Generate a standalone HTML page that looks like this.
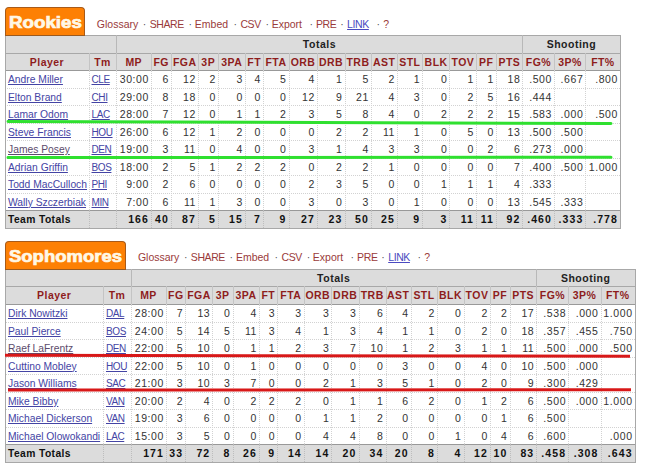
<!DOCTYPE html><html><head><meta charset="utf-8"><title>Rookies vs Sophomores</title>
<style>
*{margin:0;padding:0;box-sizing:border-box}
html,body{width:650px;height:472px;background:#fff;overflow:hidden;position:relative;font-family:"Liberation Sans", sans-serif}
div{position:absolute}
.tab{z-index:2;background:#fd8004;border:1px solid #a85a18;border-bottom-color:#9a5a20;border-radius:4px 4px 0 0;color:#fff8e6;font-weight:bold;font-size:16px;line-height:16px;padding-left:2.5px;padding-top:6.5px}
.tab span{display:inline-block;transform:scaleX(1.17);transform-origin:0 0;-webkit-text-stroke:0.7px #fff8e6}
.bg{background:#dcdcdc}
.ov{font-weight:bold;font-size:10.5px;color:#222;text-align:center;line-height:19px;letter-spacing:0.5px;text-indent:0.5px}
.hd{font-weight:bold;font-size:10.5px;color:#8e1c1c;text-align:center;line-height:18px;letter-spacing:0.45px;text-indent:0.45px}
.c{font-size:10.3px;color:#333;line-height:18.3px;padding-left:3px;padding-top:1px;white-space:nowrap;overflow:visible}
.c.r{font-size:10.5px;text-align:right;padding-right:2px;padding-left:0;padding-top:0;letter-spacing:0.6px}
.c.b{font-weight:bold;color:#111;letter-spacing:0.4px}
.c.r.b{letter-spacing:1.1px}
.nm{color:#4444a4;text-decoration:underline;text-underline-offset:1px}
.tm{font-size:10px;letter-spacing:-0.4px}
.nm.v{color:#5c4c6c}
.hs{height:1px;background:#a8a8a8}
.hs2{height:1px;background:#999}
.hd2{height:0;border-top:1px dotted #d2d2d2}
.vs{width:1px;background:#a8a8a8}
.vs2{width:1px;background:#c4c4c4}
.vs3{width:1px;background:#b8b8b8}
.vd2{width:0;border-left:1px dotted #bdbdbd}
.vd{width:0;border-left:1px dotted #d2d2d2}
.lk{font-size:10.5px;line-height:12px;white-space:nowrap}
.lk.a{color:#9a3a3a}
.lk.u{color:#4a4ac0;text-decoration:underline}
.lk.d{color:#555}
.mk{border-radius:2px}
</style></head><body>
<div class="tab" style="left:5.00px;top:7.00px;width:80.00px;height:29.00px;"><span>Rookies</span></div>
<div class="lk a" style="left:96.80px;top:18px;">Glossary</div>
<div class="lk d" style="left:142.80px;top:18px;">·</div>
<div class="lk a" style="left:149.70px;top:18px;letter-spacing:-0.4px;">SHARE</div>
<div class="lk d" style="left:188.40px;top:18px;">·</div>
<div class="lk a" style="left:194.80px;top:18px;">Embed</div>
<div class="lk d" style="left:233.50px;top:18px;">·</div>
<div class="lk a" style="left:240.40px;top:18px;letter-spacing:-0.4px;">CSV</div>
<div class="lk d" style="left:265.60px;top:18px;">·</div>
<div class="lk a" style="left:271.70px;top:18px;">Export</div>
<div class="lk d" style="left:309.40px;top:18px;">·</div>
<div class="lk a" style="left:316.00px;top:18px;letter-spacing:-0.4px;">PRE</div>
<div class="lk d" style="left:340.20px;top:18px;">·</div>
<div class="lk u" style="left:347.10px;top:18px;letter-spacing:-0.4px;">LINK</div>
<div class="lk d" style="left:376.40px;top:18px;">·</div>
<div class="lk a" style="left:383.20px;top:18px;">?</div>
<div class="bg" style="left:5.00px;top:35.00px;width:615.00px;height:35.40px;"></div>
<div class="bg" style="left:5.00px;top:210.16px;width:615.00px;height:17.90px;"></div>
<div class="ov" style="left:116.00px;top:35.00px;width:406.40px;height:18.00px;">Totals</div>
<div class="ov" style="left:522.40px;top:35.00px;width:97.60px;height:18.00px;">Shooting</div>
<div class="hd" style="left:5.00px;top:53.00px;width:83.50px;height:17.40px;">Player</div>
<div class="hd" style="left:88.50px;top:53.00px;width:27.50px;height:17.40px;">Tm</div>
<div class="hd" style="left:116.00px;top:53.00px;width:35.00px;height:17.40px;">MP</div>
<div class="hd" style="left:151.00px;top:53.00px;width:20.00px;height:17.40px;">FG</div>
<div class="hd" style="left:171.00px;top:53.00px;width:27.00px;height:17.40px;">FGA</div>
<div class="hd" style="left:198.00px;top:53.00px;width:20.00px;height:17.40px;">3P</div>
<div class="hd" style="left:218.00px;top:53.00px;width:27.00px;height:17.40px;">3PA</div>
<div class="hd" style="left:245.00px;top:53.00px;width:18.00px;height:17.40px;">FT</div>
<div class="hd" style="left:263.00px;top:53.00px;width:25.50px;height:17.40px;">FTA</div>
<div class="hd" style="left:288.50px;top:53.00px;width:28.50px;height:17.40px;">ORB</div>
<div class="hd" style="left:317.00px;top:53.00px;width:27.50px;height:17.40px;">DRB</div>
<div class="hd" style="left:344.50px;top:53.00px;width:26.50px;height:17.40px;">TRB</div>
<div class="hd" style="left:371.00px;top:53.00px;width:26.00px;height:17.40px;">AST</div>
<div class="hd" style="left:397.00px;top:53.00px;width:25.30px;height:17.40px;">STL</div>
<div class="hd" style="left:422.30px;top:53.00px;width:27.10px;height:17.40px;">BLK</div>
<div class="hd" style="left:449.40px;top:53.00px;width:26.60px;height:17.40px;">TOV</div>
<div class="hd" style="left:476.00px;top:53.00px;width:20.00px;height:17.40px;">PF</div>
<div class="hd" style="left:496.00px;top:53.00px;width:26.40px;height:17.40px;">PTS</div>
<div class="hd" style="left:522.40px;top:53.00px;width:31.60px;height:17.40px;">FG%</div>
<div class="hd" style="left:554.00px;top:53.00px;width:31.40px;height:17.40px;">3P%</div>
<div class="hd" style="left:585.40px;top:53.00px;width:34.60px;height:17.40px;">FT%</div>
<div class="c" style="left:5.00px;top:70.40px;width:83.50px;height:17.47px;"><span class="nm">Andre Miller</span></div>
<div class="c" style="left:88.50px;top:70.40px;width:27.50px;height:17.47px;"><span class="nm tm">CLE</span></div>
<div class="c r" style="left:116.00px;top:70.40px;width:35.00px;height:17.47px;">30:00</div>
<div class="c r" style="left:151.00px;top:70.40px;width:20.00px;height:17.47px;">6</div>
<div class="c r" style="left:171.00px;top:70.40px;width:27.00px;height:17.47px;">12</div>
<div class="c r" style="left:198.00px;top:70.40px;width:20.00px;height:17.47px;">2</div>
<div class="c r" style="left:218.00px;top:70.40px;width:27.00px;height:17.47px;">3</div>
<div class="c r" style="left:245.00px;top:70.40px;width:18.00px;height:17.47px;">4</div>
<div class="c r" style="left:263.00px;top:70.40px;width:25.50px;height:17.47px;">5</div>
<div class="c r" style="left:288.50px;top:70.40px;width:28.50px;height:17.47px;">4</div>
<div class="c r" style="left:317.00px;top:70.40px;width:27.50px;height:17.47px;">1</div>
<div class="c r" style="left:344.50px;top:70.40px;width:26.50px;height:17.47px;">5</div>
<div class="c r" style="left:371.00px;top:70.40px;width:26.00px;height:17.47px;">2</div>
<div class="c r" style="left:397.00px;top:70.40px;width:25.30px;height:17.47px;">1</div>
<div class="c r" style="left:422.30px;top:70.40px;width:27.10px;height:17.47px;">0</div>
<div class="c r" style="left:449.40px;top:70.40px;width:26.60px;height:17.47px;">1</div>
<div class="c r" style="left:476.00px;top:70.40px;width:20.00px;height:17.47px;">1</div>
<div class="c r" style="left:496.00px;top:70.40px;width:26.40px;height:17.47px;">18</div>
<div class="c r" style="left:522.40px;top:70.40px;width:31.60px;height:17.47px;">.500</div>
<div class="c r" style="left:554.00px;top:70.40px;width:31.40px;height:17.47px;">.667</div>
<div class="c r" style="left:585.40px;top:70.40px;width:34.60px;height:17.47px;">.800</div>
<div class="c" style="left:5.00px;top:87.87px;width:83.50px;height:17.47px;"><span class="nm">Elton Brand</span></div>
<div class="c" style="left:88.50px;top:87.87px;width:27.50px;height:17.47px;"><span class="nm tm">CHI</span></div>
<div class="c r" style="left:116.00px;top:87.87px;width:35.00px;height:17.47px;">29:00</div>
<div class="c r" style="left:151.00px;top:87.87px;width:20.00px;height:17.47px;">8</div>
<div class="c r" style="left:171.00px;top:87.87px;width:27.00px;height:17.47px;">18</div>
<div class="c r" style="left:198.00px;top:87.87px;width:20.00px;height:17.47px;">0</div>
<div class="c r" style="left:218.00px;top:87.87px;width:27.00px;height:17.47px;">0</div>
<div class="c r" style="left:245.00px;top:87.87px;width:18.00px;height:17.47px;">0</div>
<div class="c r" style="left:263.00px;top:87.87px;width:25.50px;height:17.47px;">0</div>
<div class="c r" style="left:288.50px;top:87.87px;width:28.50px;height:17.47px;">12</div>
<div class="c r" style="left:317.00px;top:87.87px;width:27.50px;height:17.47px;">9</div>
<div class="c r" style="left:344.50px;top:87.87px;width:26.50px;height:17.47px;">21</div>
<div class="c r" style="left:371.00px;top:87.87px;width:26.00px;height:17.47px;">4</div>
<div class="c r" style="left:397.00px;top:87.87px;width:25.30px;height:17.47px;">3</div>
<div class="c r" style="left:422.30px;top:87.87px;width:27.10px;height:17.47px;">0</div>
<div class="c r" style="left:449.40px;top:87.87px;width:26.60px;height:17.47px;">2</div>
<div class="c r" style="left:476.00px;top:87.87px;width:20.00px;height:17.47px;">5</div>
<div class="c r" style="left:496.00px;top:87.87px;width:26.40px;height:17.47px;">16</div>
<div class="c r" style="left:522.40px;top:87.87px;width:31.60px;height:17.47px;">.444</div>
<div class="c r" style="left:554.00px;top:87.87px;width:31.40px;height:17.47px;"></div>
<div class="c r" style="left:585.40px;top:87.87px;width:34.60px;height:17.47px;"></div>
<div class="c" style="left:5.00px;top:105.34px;width:83.50px;height:17.47px;"><span class="nm">Lamar Odom</span></div>
<div class="c" style="left:88.50px;top:105.34px;width:27.50px;height:17.47px;"><span class="nm tm">LAC</span></div>
<div class="c r" style="left:116.00px;top:105.34px;width:35.00px;height:17.47px;">28:00</div>
<div class="c r" style="left:151.00px;top:105.34px;width:20.00px;height:17.47px;">7</div>
<div class="c r" style="left:171.00px;top:105.34px;width:27.00px;height:17.47px;">12</div>
<div class="c r" style="left:198.00px;top:105.34px;width:20.00px;height:17.47px;">0</div>
<div class="c r" style="left:218.00px;top:105.34px;width:27.00px;height:17.47px;">1</div>
<div class="c r" style="left:245.00px;top:105.34px;width:18.00px;height:17.47px;">1</div>
<div class="c r" style="left:263.00px;top:105.34px;width:25.50px;height:17.47px;">2</div>
<div class="c r" style="left:288.50px;top:105.34px;width:28.50px;height:17.47px;">3</div>
<div class="c r" style="left:317.00px;top:105.34px;width:27.50px;height:17.47px;">5</div>
<div class="c r" style="left:344.50px;top:105.34px;width:26.50px;height:17.47px;">8</div>
<div class="c r" style="left:371.00px;top:105.34px;width:26.00px;height:17.47px;">4</div>
<div class="c r" style="left:397.00px;top:105.34px;width:25.30px;height:17.47px;">0</div>
<div class="c r" style="left:422.30px;top:105.34px;width:27.10px;height:17.47px;">2</div>
<div class="c r" style="left:449.40px;top:105.34px;width:26.60px;height:17.47px;">2</div>
<div class="c r" style="left:476.00px;top:105.34px;width:20.00px;height:17.47px;">2</div>
<div class="c r" style="left:496.00px;top:105.34px;width:26.40px;height:17.47px;">15</div>
<div class="c r" style="left:522.40px;top:105.34px;width:31.60px;height:17.47px;">.583</div>
<div class="c r" style="left:554.00px;top:105.34px;width:31.40px;height:17.47px;">.000</div>
<div class="c r" style="left:585.40px;top:105.34px;width:34.60px;height:17.47px;">.500</div>
<div class="c" style="left:5.00px;top:122.81px;width:83.50px;height:17.47px;"><span class="nm">Steve Francis</span></div>
<div class="c" style="left:88.50px;top:122.81px;width:27.50px;height:17.47px;"><span class="nm tm">HOU</span></div>
<div class="c r" style="left:116.00px;top:122.81px;width:35.00px;height:17.47px;">26:00</div>
<div class="c r" style="left:151.00px;top:122.81px;width:20.00px;height:17.47px;">6</div>
<div class="c r" style="left:171.00px;top:122.81px;width:27.00px;height:17.47px;">12</div>
<div class="c r" style="left:198.00px;top:122.81px;width:20.00px;height:17.47px;">1</div>
<div class="c r" style="left:218.00px;top:122.81px;width:27.00px;height:17.47px;">2</div>
<div class="c r" style="left:245.00px;top:122.81px;width:18.00px;height:17.47px;">0</div>
<div class="c r" style="left:263.00px;top:122.81px;width:25.50px;height:17.47px;">0</div>
<div class="c r" style="left:288.50px;top:122.81px;width:28.50px;height:17.47px;">0</div>
<div class="c r" style="left:317.00px;top:122.81px;width:27.50px;height:17.47px;">2</div>
<div class="c r" style="left:344.50px;top:122.81px;width:26.50px;height:17.47px;">2</div>
<div class="c r" style="left:371.00px;top:122.81px;width:26.00px;height:17.47px;">11</div>
<div class="c r" style="left:397.00px;top:122.81px;width:25.30px;height:17.47px;">1</div>
<div class="c r" style="left:422.30px;top:122.81px;width:27.10px;height:17.47px;">0</div>
<div class="c r" style="left:449.40px;top:122.81px;width:26.60px;height:17.47px;">5</div>
<div class="c r" style="left:476.00px;top:122.81px;width:20.00px;height:17.47px;">0</div>
<div class="c r" style="left:496.00px;top:122.81px;width:26.40px;height:17.47px;">13</div>
<div class="c r" style="left:522.40px;top:122.81px;width:31.60px;height:17.47px;">.500</div>
<div class="c r" style="left:554.00px;top:122.81px;width:31.40px;height:17.47px;">.500</div>
<div class="c r" style="left:585.40px;top:122.81px;width:34.60px;height:17.47px;"></div>
<div class="c" style="left:5.00px;top:140.28px;width:83.50px;height:17.47px;"><span class="nm v">James Posey</span></div>
<div class="c" style="left:88.50px;top:140.28px;width:27.50px;height:17.47px;"><span class="nm tm">DEN</span></div>
<div class="c r" style="left:116.00px;top:140.28px;width:35.00px;height:17.47px;">19:00</div>
<div class="c r" style="left:151.00px;top:140.28px;width:20.00px;height:17.47px;">3</div>
<div class="c r" style="left:171.00px;top:140.28px;width:27.00px;height:17.47px;">11</div>
<div class="c r" style="left:198.00px;top:140.28px;width:20.00px;height:17.47px;">0</div>
<div class="c r" style="left:218.00px;top:140.28px;width:27.00px;height:17.47px;">4</div>
<div class="c r" style="left:245.00px;top:140.28px;width:18.00px;height:17.47px;">0</div>
<div class="c r" style="left:263.00px;top:140.28px;width:25.50px;height:17.47px;">0</div>
<div class="c r" style="left:288.50px;top:140.28px;width:28.50px;height:17.47px;">3</div>
<div class="c r" style="left:317.00px;top:140.28px;width:27.50px;height:17.47px;">1</div>
<div class="c r" style="left:344.50px;top:140.28px;width:26.50px;height:17.47px;">4</div>
<div class="c r" style="left:371.00px;top:140.28px;width:26.00px;height:17.47px;">3</div>
<div class="c r" style="left:397.00px;top:140.28px;width:25.30px;height:17.47px;">3</div>
<div class="c r" style="left:422.30px;top:140.28px;width:27.10px;height:17.47px;">0</div>
<div class="c r" style="left:449.40px;top:140.28px;width:26.60px;height:17.47px;">0</div>
<div class="c r" style="left:476.00px;top:140.28px;width:20.00px;height:17.47px;">2</div>
<div class="c r" style="left:496.00px;top:140.28px;width:26.40px;height:17.47px;">6</div>
<div class="c r" style="left:522.40px;top:140.28px;width:31.60px;height:17.47px;">.273</div>
<div class="c r" style="left:554.00px;top:140.28px;width:31.40px;height:17.47px;">.000</div>
<div class="c r" style="left:585.40px;top:140.28px;width:34.60px;height:17.47px;"></div>
<div class="c" style="left:5.00px;top:157.75px;width:83.50px;height:17.47px;"><span class="nm">Adrian Griffin</span></div>
<div class="c" style="left:88.50px;top:157.75px;width:27.50px;height:17.47px;"><span class="nm tm">BOS</span></div>
<div class="c r" style="left:116.00px;top:157.75px;width:35.00px;height:17.47px;">18:00</div>
<div class="c r" style="left:151.00px;top:157.75px;width:20.00px;height:17.47px;">2</div>
<div class="c r" style="left:171.00px;top:157.75px;width:27.00px;height:17.47px;">5</div>
<div class="c r" style="left:198.00px;top:157.75px;width:20.00px;height:17.47px;">1</div>
<div class="c r" style="left:218.00px;top:157.75px;width:27.00px;height:17.47px;">2</div>
<div class="c r" style="left:245.00px;top:157.75px;width:18.00px;height:17.47px;">2</div>
<div class="c r" style="left:263.00px;top:157.75px;width:25.50px;height:17.47px;">2</div>
<div class="c r" style="left:288.50px;top:157.75px;width:28.50px;height:17.47px;">0</div>
<div class="c r" style="left:317.00px;top:157.75px;width:27.50px;height:17.47px;">2</div>
<div class="c r" style="left:344.50px;top:157.75px;width:26.50px;height:17.47px;">2</div>
<div class="c r" style="left:371.00px;top:157.75px;width:26.00px;height:17.47px;">1</div>
<div class="c r" style="left:397.00px;top:157.75px;width:25.30px;height:17.47px;">0</div>
<div class="c r" style="left:422.30px;top:157.75px;width:27.10px;height:17.47px;">0</div>
<div class="c r" style="left:449.40px;top:157.75px;width:26.60px;height:17.47px;">0</div>
<div class="c r" style="left:476.00px;top:157.75px;width:20.00px;height:17.47px;">0</div>
<div class="c r" style="left:496.00px;top:157.75px;width:26.40px;height:17.47px;">7</div>
<div class="c r" style="left:522.40px;top:157.75px;width:31.60px;height:17.47px;">.400</div>
<div class="c r" style="left:554.00px;top:157.75px;width:31.40px;height:17.47px;">.500</div>
<div class="c r" style="left:585.40px;top:157.75px;width:34.60px;height:17.47px;">1.000</div>
<div class="c" style="left:5.00px;top:175.22px;width:83.50px;height:17.47px;"><span class="nm">Todd MacCulloch</span></div>
<div class="c" style="left:88.50px;top:175.22px;width:27.50px;height:17.47px;"><span class="nm tm">PHI</span></div>
<div class="c r" style="left:116.00px;top:175.22px;width:35.00px;height:17.47px;">9:00</div>
<div class="c r" style="left:151.00px;top:175.22px;width:20.00px;height:17.47px;">2</div>
<div class="c r" style="left:171.00px;top:175.22px;width:27.00px;height:17.47px;">6</div>
<div class="c r" style="left:198.00px;top:175.22px;width:20.00px;height:17.47px;">0</div>
<div class="c r" style="left:218.00px;top:175.22px;width:27.00px;height:17.47px;">0</div>
<div class="c r" style="left:245.00px;top:175.22px;width:18.00px;height:17.47px;">0</div>
<div class="c r" style="left:263.00px;top:175.22px;width:25.50px;height:17.47px;">0</div>
<div class="c r" style="left:288.50px;top:175.22px;width:28.50px;height:17.47px;">2</div>
<div class="c r" style="left:317.00px;top:175.22px;width:27.50px;height:17.47px;">3</div>
<div class="c r" style="left:344.50px;top:175.22px;width:26.50px;height:17.47px;">5</div>
<div class="c r" style="left:371.00px;top:175.22px;width:26.00px;height:17.47px;">0</div>
<div class="c r" style="left:397.00px;top:175.22px;width:25.30px;height:17.47px;">0</div>
<div class="c r" style="left:422.30px;top:175.22px;width:27.10px;height:17.47px;">1</div>
<div class="c r" style="left:449.40px;top:175.22px;width:26.60px;height:17.47px;">1</div>
<div class="c r" style="left:476.00px;top:175.22px;width:20.00px;height:17.47px;">1</div>
<div class="c r" style="left:496.00px;top:175.22px;width:26.40px;height:17.47px;">4</div>
<div class="c r" style="left:522.40px;top:175.22px;width:31.60px;height:17.47px;">.333</div>
<div class="c r" style="left:554.00px;top:175.22px;width:31.40px;height:17.47px;"></div>
<div class="c r" style="left:585.40px;top:175.22px;width:34.60px;height:17.47px;"></div>
<div class="c" style="left:5.00px;top:192.69px;width:83.50px;height:17.47px;"><span class="nm">Wally Szczerbiak</span></div>
<div class="c" style="left:88.50px;top:192.69px;width:27.50px;height:17.47px;"><span class="nm tm">MIN</span></div>
<div class="c r" style="left:116.00px;top:192.69px;width:35.00px;height:17.47px;">7:00</div>
<div class="c r" style="left:151.00px;top:192.69px;width:20.00px;height:17.47px;">6</div>
<div class="c r" style="left:171.00px;top:192.69px;width:27.00px;height:17.47px;">11</div>
<div class="c r" style="left:198.00px;top:192.69px;width:20.00px;height:17.47px;">1</div>
<div class="c r" style="left:218.00px;top:192.69px;width:27.00px;height:17.47px;">3</div>
<div class="c r" style="left:245.00px;top:192.69px;width:18.00px;height:17.47px;">0</div>
<div class="c r" style="left:263.00px;top:192.69px;width:25.50px;height:17.47px;">0</div>
<div class="c r" style="left:288.50px;top:192.69px;width:28.50px;height:17.47px;">3</div>
<div class="c r" style="left:317.00px;top:192.69px;width:27.50px;height:17.47px;">0</div>
<div class="c r" style="left:344.50px;top:192.69px;width:26.50px;height:17.47px;">3</div>
<div class="c r" style="left:371.00px;top:192.69px;width:26.00px;height:17.47px;">0</div>
<div class="c r" style="left:397.00px;top:192.69px;width:25.30px;height:17.47px;">1</div>
<div class="c r" style="left:422.30px;top:192.69px;width:27.10px;height:17.47px;">0</div>
<div class="c r" style="left:449.40px;top:192.69px;width:26.60px;height:17.47px;">0</div>
<div class="c r" style="left:476.00px;top:192.69px;width:20.00px;height:17.47px;">0</div>
<div class="c r" style="left:496.00px;top:192.69px;width:26.40px;height:17.47px;">13</div>
<div class="c r" style="left:522.40px;top:192.69px;width:31.60px;height:17.47px;">.545</div>
<div class="c r" style="left:554.00px;top:192.69px;width:31.40px;height:17.47px;">.333</div>
<div class="c r" style="left:585.40px;top:192.69px;width:34.60px;height:17.47px;"></div>
<div class="c b" style="left:5.00px;top:210.16px;width:83.50px;height:17.90px;">Team Totals</div>
<div class="c r b" style="left:116.00px;top:210.16px;width:35.00px;height:17.90px;">166</div>
<div class="c r b" style="left:151.00px;top:210.16px;width:20.00px;height:17.90px;">40</div>
<div class="c r b" style="left:171.00px;top:210.16px;width:27.00px;height:17.90px;">87</div>
<div class="c r b" style="left:198.00px;top:210.16px;width:20.00px;height:17.90px;">5</div>
<div class="c r b" style="left:218.00px;top:210.16px;width:27.00px;height:17.90px;">15</div>
<div class="c r b" style="left:245.00px;top:210.16px;width:18.00px;height:17.90px;">7</div>
<div class="c r b" style="left:263.00px;top:210.16px;width:25.50px;height:17.90px;">9</div>
<div class="c r b" style="left:288.50px;top:210.16px;width:28.50px;height:17.90px;">27</div>
<div class="c r b" style="left:317.00px;top:210.16px;width:27.50px;height:17.90px;">23</div>
<div class="c r b" style="left:344.50px;top:210.16px;width:26.50px;height:17.90px;">50</div>
<div class="c r b" style="left:371.00px;top:210.16px;width:26.00px;height:17.90px;">25</div>
<div class="c r b" style="left:397.00px;top:210.16px;width:25.30px;height:17.90px;">9</div>
<div class="c r b" style="left:422.30px;top:210.16px;width:27.10px;height:17.90px;">3</div>
<div class="c r b" style="left:449.40px;top:210.16px;width:26.60px;height:17.90px;">11</div>
<div class="c r b" style="left:476.00px;top:210.16px;width:20.00px;height:17.90px;">11</div>
<div class="c r b" style="left:496.00px;top:210.16px;width:26.40px;height:17.90px;">92</div>
<div class="c r b" style="left:522.40px;top:210.16px;width:31.60px;height:17.90px;">.460</div>
<div class="c r b" style="left:554.00px;top:210.16px;width:31.40px;height:17.90px;">.333</div>
<div class="c r b" style="left:585.40px;top:210.16px;width:34.60px;height:17.90px;">.778</div>
<div class="hs" style="left:5.00px;top:35.00px;width:615.00px"></div>
<div class="hs" style="left:5.00px;top:53.00px;width:615.00px"></div>
<div class="hs2" style="left:5.00px;top:70.40px;width:615.00px"></div>
<div class="hd2" style="left:5.00px;top:87.87px;width:615.00px"></div>
<div class="hd2" style="left:5.00px;top:105.34px;width:615.00px"></div>
<div class="hd2" style="left:5.00px;top:122.81px;width:615.00px"></div>
<div class="hd2" style="left:5.00px;top:140.28px;width:615.00px"></div>
<div class="hd2" style="left:5.00px;top:157.75px;width:615.00px"></div>
<div class="hd2" style="left:5.00px;top:175.22px;width:615.00px"></div>
<div class="hd2" style="left:5.00px;top:192.69px;width:615.00px"></div>
<div class="hs2" style="left:5.00px;top:210.16px;width:615.00px"></div>
<div class="hs" style="left:5.00px;top:228.06px;width:615.00px"></div>
<div class="vs" style="left:5.00px;top:35.00px;height:194.06px"></div>
<div class="vs" style="left:620.00px;top:35.00px;height:194.06px"></div>
<div class="vs3" style="left:116.00px;top:35.00px;height:18.00px"></div>
<div class="vs3" style="left:522.40px;top:35.00px;height:18.00px"></div>
<div class="vs2" style="left:88.50px;top:53.00px;height:17.40px"></div>
<div class="vd" style="left:88.50px;top:70.40px;height:139.76px"></div>
<div class="vd2" style="left:88.50px;top:210.16px;height:17.90px"></div>
<div class="vs2" style="left:116.00px;top:53.00px;height:17.40px"></div>
<div class="vd" style="left:116.00px;top:70.40px;height:139.76px"></div>
<div class="vd2" style="left:116.00px;top:210.16px;height:17.90px"></div>
<div class="vs2" style="left:151.00px;top:53.00px;height:17.40px"></div>
<div class="vd" style="left:151.00px;top:70.40px;height:139.76px"></div>
<div class="vd2" style="left:151.00px;top:210.16px;height:17.90px"></div>
<div class="vs2" style="left:171.00px;top:53.00px;height:17.40px"></div>
<div class="vd" style="left:171.00px;top:70.40px;height:139.76px"></div>
<div class="vd2" style="left:171.00px;top:210.16px;height:17.90px"></div>
<div class="vs2" style="left:198.00px;top:53.00px;height:17.40px"></div>
<div class="vd" style="left:198.00px;top:70.40px;height:139.76px"></div>
<div class="vd2" style="left:198.00px;top:210.16px;height:17.90px"></div>
<div class="vs2" style="left:218.00px;top:53.00px;height:17.40px"></div>
<div class="vd" style="left:218.00px;top:70.40px;height:139.76px"></div>
<div class="vd2" style="left:218.00px;top:210.16px;height:17.90px"></div>
<div class="vs2" style="left:245.00px;top:53.00px;height:17.40px"></div>
<div class="vd" style="left:245.00px;top:70.40px;height:139.76px"></div>
<div class="vd2" style="left:245.00px;top:210.16px;height:17.90px"></div>
<div class="vs2" style="left:263.00px;top:53.00px;height:17.40px"></div>
<div class="vd" style="left:263.00px;top:70.40px;height:139.76px"></div>
<div class="vd2" style="left:263.00px;top:210.16px;height:17.90px"></div>
<div class="vs2" style="left:288.50px;top:53.00px;height:17.40px"></div>
<div class="vd" style="left:288.50px;top:70.40px;height:139.76px"></div>
<div class="vd2" style="left:288.50px;top:210.16px;height:17.90px"></div>
<div class="vs2" style="left:317.00px;top:53.00px;height:17.40px"></div>
<div class="vd" style="left:317.00px;top:70.40px;height:139.76px"></div>
<div class="vd2" style="left:317.00px;top:210.16px;height:17.90px"></div>
<div class="vs2" style="left:344.50px;top:53.00px;height:17.40px"></div>
<div class="vd" style="left:344.50px;top:70.40px;height:139.76px"></div>
<div class="vd2" style="left:344.50px;top:210.16px;height:17.90px"></div>
<div class="vs2" style="left:371.00px;top:53.00px;height:17.40px"></div>
<div class="vd" style="left:371.00px;top:70.40px;height:139.76px"></div>
<div class="vd2" style="left:371.00px;top:210.16px;height:17.90px"></div>
<div class="vs2" style="left:397.00px;top:53.00px;height:17.40px"></div>
<div class="vd" style="left:397.00px;top:70.40px;height:139.76px"></div>
<div class="vd2" style="left:397.00px;top:210.16px;height:17.90px"></div>
<div class="vs2" style="left:422.30px;top:53.00px;height:17.40px"></div>
<div class="vd" style="left:422.30px;top:70.40px;height:139.76px"></div>
<div class="vd2" style="left:422.30px;top:210.16px;height:17.90px"></div>
<div class="vs2" style="left:449.40px;top:53.00px;height:17.40px"></div>
<div class="vd" style="left:449.40px;top:70.40px;height:139.76px"></div>
<div class="vd2" style="left:449.40px;top:210.16px;height:17.90px"></div>
<div class="vs2" style="left:476.00px;top:53.00px;height:17.40px"></div>
<div class="vd" style="left:476.00px;top:70.40px;height:139.76px"></div>
<div class="vd2" style="left:476.00px;top:210.16px;height:17.90px"></div>
<div class="vs2" style="left:496.00px;top:53.00px;height:17.40px"></div>
<div class="vd" style="left:496.00px;top:70.40px;height:139.76px"></div>
<div class="vd2" style="left:496.00px;top:210.16px;height:17.90px"></div>
<div class="vs2" style="left:522.40px;top:53.00px;height:17.40px"></div>
<div class="vd" style="left:522.40px;top:70.40px;height:139.76px"></div>
<div class="vd2" style="left:522.40px;top:210.16px;height:17.90px"></div>
<div class="vs2" style="left:554.00px;top:53.00px;height:17.40px"></div>
<div class="vd" style="left:554.00px;top:70.40px;height:139.76px"></div>
<div class="vd2" style="left:554.00px;top:210.16px;height:17.90px"></div>
<div class="vs2" style="left:585.40px;top:53.00px;height:17.40px"></div>
<div class="vd" style="left:585.40px;top:70.40px;height:139.76px"></div>
<div class="vd2" style="left:585.40px;top:210.16px;height:17.90px"></div>
<div class="tab" style="left:5.00px;top:241.00px;width:120.50px;height:29.00px;"><span style="transform:scaleX(1.155)">Sophomores</span></div>
<div class="lk a" style="left:137.90px;top:251px;">Glossary</div>
<div class="lk d" style="left:183.90px;top:251px;">·</div>
<div class="lk a" style="left:190.80px;top:251px;letter-spacing:-0.4px;">SHARE</div>
<div class="lk d" style="left:229.50px;top:251px;">·</div>
<div class="lk a" style="left:235.90px;top:251px;">Embed</div>
<div class="lk d" style="left:274.60px;top:251px;">·</div>
<div class="lk a" style="left:281.50px;top:251px;letter-spacing:-0.4px;">CSV</div>
<div class="lk d" style="left:306.70px;top:251px;">·</div>
<div class="lk a" style="left:312.80px;top:251px;">Export</div>
<div class="lk d" style="left:350.50px;top:251px;">·</div>
<div class="lk a" style="left:357.10px;top:251px;letter-spacing:-0.4px;">PRE</div>
<div class="lk d" style="left:381.30px;top:251px;">·</div>
<div class="lk u" style="left:388.20px;top:251px;letter-spacing:-0.4px;">LINK</div>
<div class="lk d" style="left:417.50px;top:251px;">·</div>
<div class="lk a" style="left:424.30px;top:251px;">?</div>
<div class="bg" style="left:5.00px;top:269.00px;width:629.60px;height:35.30px;"></div>
<div class="bg" style="left:5.00px;top:444.30px;width:629.60px;height:18.00px;"></div>
<div class="ov" style="left:130.60px;top:269.00px;width:405.70px;height:17.00px;">Totals</div>
<div class="ov" style="left:536.30px;top:269.00px;width:98.30px;height:17.00px;">Shooting</div>
<div class="hd" style="left:5.00px;top:286.00px;width:98.00px;height:18.30px;">Player</div>
<div class="hd" style="left:103.00px;top:286.00px;width:27.60px;height:18.30px;">Tm</div>
<div class="hd" style="left:130.60px;top:286.00px;width:35.40px;height:18.30px;">MP</div>
<div class="hd" style="left:166.00px;top:286.00px;width:19.20px;height:18.30px;">FG</div>
<div class="hd" style="left:185.20px;top:286.00px;width:27.10px;height:18.30px;">FGA</div>
<div class="hd" style="left:212.30px;top:286.00px;width:20.20px;height:18.30px;">3P</div>
<div class="hd" style="left:232.50px;top:286.00px;width:26.50px;height:18.30px;">3PA</div>
<div class="hd" style="left:259.00px;top:286.00px;width:18.30px;height:18.30px;">FT</div>
<div class="hd" style="left:277.30px;top:286.00px;width:26.50px;height:18.30px;">FTA</div>
<div class="hd" style="left:303.80px;top:286.00px;width:27.60px;height:18.30px;">ORB</div>
<div class="hd" style="left:331.40px;top:286.00px;width:27.10px;height:18.30px;">DRB</div>
<div class="hd" style="left:358.50px;top:286.00px;width:27.00px;height:18.30px;">TRB</div>
<div class="hd" style="left:385.50px;top:286.00px;width:25.10px;height:18.30px;">AST</div>
<div class="hd" style="left:410.60px;top:286.00px;width:26.40px;height:18.30px;">STL</div>
<div class="hd" style="left:437.00px;top:286.00px;width:26.50px;height:18.30px;">BLK</div>
<div class="hd" style="left:463.50px;top:286.00px;width:26.50px;height:18.30px;">TOV</div>
<div class="hd" style="left:490.00px;top:286.00px;width:19.50px;height:18.30px;">PF</div>
<div class="hd" style="left:509.50px;top:286.00px;width:26.80px;height:18.30px;">PTS</div>
<div class="hd" style="left:536.30px;top:286.00px;width:31.90px;height:18.30px;">FG%</div>
<div class="hd" style="left:568.20px;top:286.00px;width:32.30px;height:18.30px;">3P%</div>
<div class="hd" style="left:600.50px;top:286.00px;width:34.10px;height:18.30px;">FT%</div>
<div class="c" style="left:5.00px;top:304.30px;width:98.00px;height:17.50px;"><span class="nm">Dirk Nowitzki</span></div>
<div class="c" style="left:103.00px;top:304.30px;width:27.60px;height:17.50px;"><span class="nm tm">DAL</span></div>
<div class="c r" style="left:130.60px;top:304.30px;width:35.40px;height:17.50px;">28:00</div>
<div class="c r" style="left:166.00px;top:304.30px;width:19.20px;height:17.50px;">7</div>
<div class="c r" style="left:185.20px;top:304.30px;width:27.10px;height:17.50px;">13</div>
<div class="c r" style="left:212.30px;top:304.30px;width:20.20px;height:17.50px;">0</div>
<div class="c r" style="left:232.50px;top:304.30px;width:26.50px;height:17.50px;">4</div>
<div class="c r" style="left:259.00px;top:304.30px;width:18.30px;height:17.50px;">3</div>
<div class="c r" style="left:277.30px;top:304.30px;width:26.50px;height:17.50px;">3</div>
<div class="c r" style="left:303.80px;top:304.30px;width:27.60px;height:17.50px;">3</div>
<div class="c r" style="left:331.40px;top:304.30px;width:27.10px;height:17.50px;">3</div>
<div class="c r" style="left:358.50px;top:304.30px;width:27.00px;height:17.50px;">6</div>
<div class="c r" style="left:385.50px;top:304.30px;width:25.10px;height:17.50px;">4</div>
<div class="c r" style="left:410.60px;top:304.30px;width:26.40px;height:17.50px;">2</div>
<div class="c r" style="left:437.00px;top:304.30px;width:26.50px;height:17.50px;">0</div>
<div class="c r" style="left:463.50px;top:304.30px;width:26.50px;height:17.50px;">2</div>
<div class="c r" style="left:490.00px;top:304.30px;width:19.50px;height:17.50px;">2</div>
<div class="c r" style="left:509.50px;top:304.30px;width:26.80px;height:17.50px;">17</div>
<div class="c r" style="left:536.30px;top:304.30px;width:31.90px;height:17.50px;">.538</div>
<div class="c r" style="left:568.20px;top:304.30px;width:32.30px;height:17.50px;">.000</div>
<div class="c r" style="left:600.50px;top:304.30px;width:34.10px;height:17.50px;">1.000</div>
<div class="c" style="left:5.00px;top:321.80px;width:98.00px;height:17.50px;"><span class="nm">Paul Pierce</span></div>
<div class="c" style="left:103.00px;top:321.80px;width:27.60px;height:17.50px;"><span class="nm tm">BOS</span></div>
<div class="c r" style="left:130.60px;top:321.80px;width:35.40px;height:17.50px;">24:00</div>
<div class="c r" style="left:166.00px;top:321.80px;width:19.20px;height:17.50px;">5</div>
<div class="c r" style="left:185.20px;top:321.80px;width:27.10px;height:17.50px;">14</div>
<div class="c r" style="left:212.30px;top:321.80px;width:20.20px;height:17.50px;">5</div>
<div class="c r" style="left:232.50px;top:321.80px;width:26.50px;height:17.50px;">11</div>
<div class="c r" style="left:259.00px;top:321.80px;width:18.30px;height:17.50px;">3</div>
<div class="c r" style="left:277.30px;top:321.80px;width:26.50px;height:17.50px;">4</div>
<div class="c r" style="left:303.80px;top:321.80px;width:27.60px;height:17.50px;">1</div>
<div class="c r" style="left:331.40px;top:321.80px;width:27.10px;height:17.50px;">3</div>
<div class="c r" style="left:358.50px;top:321.80px;width:27.00px;height:17.50px;">4</div>
<div class="c r" style="left:385.50px;top:321.80px;width:25.10px;height:17.50px;">1</div>
<div class="c r" style="left:410.60px;top:321.80px;width:26.40px;height:17.50px;">1</div>
<div class="c r" style="left:437.00px;top:321.80px;width:26.50px;height:17.50px;">0</div>
<div class="c r" style="left:463.50px;top:321.80px;width:26.50px;height:17.50px;">2</div>
<div class="c r" style="left:490.00px;top:321.80px;width:19.50px;height:17.50px;">0</div>
<div class="c r" style="left:509.50px;top:321.80px;width:26.80px;height:17.50px;">18</div>
<div class="c r" style="left:536.30px;top:321.80px;width:31.90px;height:17.50px;">.357</div>
<div class="c r" style="left:568.20px;top:321.80px;width:32.30px;height:17.50px;">.455</div>
<div class="c r" style="left:600.50px;top:321.80px;width:34.10px;height:17.50px;">.750</div>
<div class="c" style="left:5.00px;top:339.30px;width:98.00px;height:17.50px;"><span class="nm v">Raef LaFrentz</span></div>
<div class="c" style="left:103.00px;top:339.30px;width:27.60px;height:17.50px;"><span class="nm tm">DEN</span></div>
<div class="c r" style="left:130.60px;top:339.30px;width:35.40px;height:17.50px;">22:00</div>
<div class="c r" style="left:166.00px;top:339.30px;width:19.20px;height:17.50px;">5</div>
<div class="c r" style="left:185.20px;top:339.30px;width:27.10px;height:17.50px;">10</div>
<div class="c r" style="left:212.30px;top:339.30px;width:20.20px;height:17.50px;">0</div>
<div class="c r" style="left:232.50px;top:339.30px;width:26.50px;height:17.50px;">1</div>
<div class="c r" style="left:259.00px;top:339.30px;width:18.30px;height:17.50px;">1</div>
<div class="c r" style="left:277.30px;top:339.30px;width:26.50px;height:17.50px;">2</div>
<div class="c r" style="left:303.80px;top:339.30px;width:27.60px;height:17.50px;">3</div>
<div class="c r" style="left:331.40px;top:339.30px;width:27.10px;height:17.50px;">7</div>
<div class="c r" style="left:358.50px;top:339.30px;width:27.00px;height:17.50px;">10</div>
<div class="c r" style="left:385.50px;top:339.30px;width:25.10px;height:17.50px;">1</div>
<div class="c r" style="left:410.60px;top:339.30px;width:26.40px;height:17.50px;">2</div>
<div class="c r" style="left:437.00px;top:339.30px;width:26.50px;height:17.50px;">3</div>
<div class="c r" style="left:463.50px;top:339.30px;width:26.50px;height:17.50px;">1</div>
<div class="c r" style="left:490.00px;top:339.30px;width:19.50px;height:17.50px;">1</div>
<div class="c r" style="left:509.50px;top:339.30px;width:26.80px;height:17.50px;">11</div>
<div class="c r" style="left:536.30px;top:339.30px;width:31.90px;height:17.50px;">.500</div>
<div class="c r" style="left:568.20px;top:339.30px;width:32.30px;height:17.50px;">.000</div>
<div class="c r" style="left:600.50px;top:339.30px;width:34.10px;height:17.50px;">.500</div>
<div class="c" style="left:5.00px;top:356.80px;width:98.00px;height:17.50px;"><span class="nm">Cuttino Mobley</span></div>
<div class="c" style="left:103.00px;top:356.80px;width:27.60px;height:17.50px;"><span class="nm tm">HOU</span></div>
<div class="c r" style="left:130.60px;top:356.80px;width:35.40px;height:17.50px;">22:00</div>
<div class="c r" style="left:166.00px;top:356.80px;width:19.20px;height:17.50px;">5</div>
<div class="c r" style="left:185.20px;top:356.80px;width:27.10px;height:17.50px;">10</div>
<div class="c r" style="left:212.30px;top:356.80px;width:20.20px;height:17.50px;">0</div>
<div class="c r" style="left:232.50px;top:356.80px;width:26.50px;height:17.50px;">1</div>
<div class="c r" style="left:259.00px;top:356.80px;width:18.30px;height:17.50px;">0</div>
<div class="c r" style="left:277.30px;top:356.80px;width:26.50px;height:17.50px;">0</div>
<div class="c r" style="left:303.80px;top:356.80px;width:27.60px;height:17.50px;">0</div>
<div class="c r" style="left:331.40px;top:356.80px;width:27.10px;height:17.50px;">0</div>
<div class="c r" style="left:358.50px;top:356.80px;width:27.00px;height:17.50px;">0</div>
<div class="c r" style="left:385.50px;top:356.80px;width:25.10px;height:17.50px;">3</div>
<div class="c r" style="left:410.60px;top:356.80px;width:26.40px;height:17.50px;">0</div>
<div class="c r" style="left:437.00px;top:356.80px;width:26.50px;height:17.50px;">0</div>
<div class="c r" style="left:463.50px;top:356.80px;width:26.50px;height:17.50px;">4</div>
<div class="c r" style="left:490.00px;top:356.80px;width:19.50px;height:17.50px;">0</div>
<div class="c r" style="left:509.50px;top:356.80px;width:26.80px;height:17.50px;">10</div>
<div class="c r" style="left:536.30px;top:356.80px;width:31.90px;height:17.50px;">.500</div>
<div class="c r" style="left:568.20px;top:356.80px;width:32.30px;height:17.50px;">.000</div>
<div class="c r" style="left:600.50px;top:356.80px;width:34.10px;height:17.50px;"></div>
<div class="c" style="left:5.00px;top:374.30px;width:98.00px;height:17.50px;"><span class="nm">Jason Williams</span></div>
<div class="c" style="left:103.00px;top:374.30px;width:27.60px;height:17.50px;"><span class="nm tm">SAC</span></div>
<div class="c r" style="left:130.60px;top:374.30px;width:35.40px;height:17.50px;">21:00</div>
<div class="c r" style="left:166.00px;top:374.30px;width:19.20px;height:17.50px;">3</div>
<div class="c r" style="left:185.20px;top:374.30px;width:27.10px;height:17.50px;">10</div>
<div class="c r" style="left:212.30px;top:374.30px;width:20.20px;height:17.50px;">3</div>
<div class="c r" style="left:232.50px;top:374.30px;width:26.50px;height:17.50px;">7</div>
<div class="c r" style="left:259.00px;top:374.30px;width:18.30px;height:17.50px;">0</div>
<div class="c r" style="left:277.30px;top:374.30px;width:26.50px;height:17.50px;">0</div>
<div class="c r" style="left:303.80px;top:374.30px;width:27.60px;height:17.50px;">2</div>
<div class="c r" style="left:331.40px;top:374.30px;width:27.10px;height:17.50px;">1</div>
<div class="c r" style="left:358.50px;top:374.30px;width:27.00px;height:17.50px;">3</div>
<div class="c r" style="left:385.50px;top:374.30px;width:25.10px;height:17.50px;">5</div>
<div class="c r" style="left:410.60px;top:374.30px;width:26.40px;height:17.50px;">1</div>
<div class="c r" style="left:437.00px;top:374.30px;width:26.50px;height:17.50px;">0</div>
<div class="c r" style="left:463.50px;top:374.30px;width:26.50px;height:17.50px;">2</div>
<div class="c r" style="left:490.00px;top:374.30px;width:19.50px;height:17.50px;">0</div>
<div class="c r" style="left:509.50px;top:374.30px;width:26.80px;height:17.50px;">9</div>
<div class="c r" style="left:536.30px;top:374.30px;width:31.90px;height:17.50px;">.300</div>
<div class="c r" style="left:568.20px;top:374.30px;width:32.30px;height:17.50px;">.429</div>
<div class="c r" style="left:600.50px;top:374.30px;width:34.10px;height:17.50px;"></div>
<div class="c" style="left:5.00px;top:391.80px;width:98.00px;height:17.50px;"><span class="nm">Mike Bibby</span></div>
<div class="c" style="left:103.00px;top:391.80px;width:27.60px;height:17.50px;"><span class="nm tm">VAN</span></div>
<div class="c r" style="left:130.60px;top:391.80px;width:35.40px;height:17.50px;">20:00</div>
<div class="c r" style="left:166.00px;top:391.80px;width:19.20px;height:17.50px;">2</div>
<div class="c r" style="left:185.20px;top:391.80px;width:27.10px;height:17.50px;">4</div>
<div class="c r" style="left:212.30px;top:391.80px;width:20.20px;height:17.50px;">0</div>
<div class="c r" style="left:232.50px;top:391.80px;width:26.50px;height:17.50px;">2</div>
<div class="c r" style="left:259.00px;top:391.80px;width:18.30px;height:17.50px;">2</div>
<div class="c r" style="left:277.30px;top:391.80px;width:26.50px;height:17.50px;">2</div>
<div class="c r" style="left:303.80px;top:391.80px;width:27.60px;height:17.50px;">0</div>
<div class="c r" style="left:331.40px;top:391.80px;width:27.10px;height:17.50px;">1</div>
<div class="c r" style="left:358.50px;top:391.80px;width:27.00px;height:17.50px;">1</div>
<div class="c r" style="left:385.50px;top:391.80px;width:25.10px;height:17.50px;">6</div>
<div class="c r" style="left:410.60px;top:391.80px;width:26.40px;height:17.50px;">2</div>
<div class="c r" style="left:437.00px;top:391.80px;width:26.50px;height:17.50px;">0</div>
<div class="c r" style="left:463.50px;top:391.80px;width:26.50px;height:17.50px;">1</div>
<div class="c r" style="left:490.00px;top:391.80px;width:19.50px;height:17.50px;">2</div>
<div class="c r" style="left:509.50px;top:391.80px;width:26.80px;height:17.50px;">6</div>
<div class="c r" style="left:536.30px;top:391.80px;width:31.90px;height:17.50px;">.500</div>
<div class="c r" style="left:568.20px;top:391.80px;width:32.30px;height:17.50px;">.000</div>
<div class="c r" style="left:600.50px;top:391.80px;width:34.10px;height:17.50px;">1.000</div>
<div class="c" style="left:5.00px;top:409.30px;width:98.00px;height:17.50px;"><span class="nm">Michael Dickerson</span></div>
<div class="c" style="left:103.00px;top:409.30px;width:27.60px;height:17.50px;"><span class="nm tm">VAN</span></div>
<div class="c r" style="left:130.60px;top:409.30px;width:35.40px;height:17.50px;">19:00</div>
<div class="c r" style="left:166.00px;top:409.30px;width:19.20px;height:17.50px;">3</div>
<div class="c r" style="left:185.20px;top:409.30px;width:27.10px;height:17.50px;">6</div>
<div class="c r" style="left:212.30px;top:409.30px;width:20.20px;height:17.50px;">0</div>
<div class="c r" style="left:232.50px;top:409.30px;width:26.50px;height:17.50px;">0</div>
<div class="c r" style="left:259.00px;top:409.30px;width:18.30px;height:17.50px;">0</div>
<div class="c r" style="left:277.30px;top:409.30px;width:26.50px;height:17.50px;">0</div>
<div class="c r" style="left:303.80px;top:409.30px;width:27.60px;height:17.50px;">1</div>
<div class="c r" style="left:331.40px;top:409.30px;width:27.10px;height:17.50px;">1</div>
<div class="c r" style="left:358.50px;top:409.30px;width:27.00px;height:17.50px;">2</div>
<div class="c r" style="left:385.50px;top:409.30px;width:25.10px;height:17.50px;">0</div>
<div class="c r" style="left:410.60px;top:409.30px;width:26.40px;height:17.50px;">0</div>
<div class="c r" style="left:437.00px;top:409.30px;width:26.50px;height:17.50px;">0</div>
<div class="c r" style="left:463.50px;top:409.30px;width:26.50px;height:17.50px;">0</div>
<div class="c r" style="left:490.00px;top:409.30px;width:19.50px;height:17.50px;">1</div>
<div class="c r" style="left:509.50px;top:409.30px;width:26.80px;height:17.50px;">6</div>
<div class="c r" style="left:536.30px;top:409.30px;width:31.90px;height:17.50px;">.500</div>
<div class="c r" style="left:568.20px;top:409.30px;width:32.30px;height:17.50px;"></div>
<div class="c r" style="left:600.50px;top:409.30px;width:34.10px;height:17.50px;"></div>
<div class="c" style="left:5.00px;top:426.80px;width:98.00px;height:17.50px;"><span class="nm">Michael Olowokandi</span></div>
<div class="c" style="left:103.00px;top:426.80px;width:27.60px;height:17.50px;"><span class="nm tm">LAC</span></div>
<div class="c r" style="left:130.60px;top:426.80px;width:35.40px;height:17.50px;">15:00</div>
<div class="c r" style="left:166.00px;top:426.80px;width:19.20px;height:17.50px;">3</div>
<div class="c r" style="left:185.20px;top:426.80px;width:27.10px;height:17.50px;">5</div>
<div class="c r" style="left:212.30px;top:426.80px;width:20.20px;height:17.50px;">0</div>
<div class="c r" style="left:232.50px;top:426.80px;width:26.50px;height:17.50px;">0</div>
<div class="c r" style="left:259.00px;top:426.80px;width:18.30px;height:17.50px;">0</div>
<div class="c r" style="left:277.30px;top:426.80px;width:26.50px;height:17.50px;">0</div>
<div class="c r" style="left:303.80px;top:426.80px;width:27.60px;height:17.50px;">4</div>
<div class="c r" style="left:331.40px;top:426.80px;width:27.10px;height:17.50px;">4</div>
<div class="c r" style="left:358.50px;top:426.80px;width:27.00px;height:17.50px;">8</div>
<div class="c r" style="left:385.50px;top:426.80px;width:25.10px;height:17.50px;">0</div>
<div class="c r" style="left:410.60px;top:426.80px;width:26.40px;height:17.50px;">0</div>
<div class="c r" style="left:437.00px;top:426.80px;width:26.50px;height:17.50px;">1</div>
<div class="c r" style="left:463.50px;top:426.80px;width:26.50px;height:17.50px;">0</div>
<div class="c r" style="left:490.00px;top:426.80px;width:19.50px;height:17.50px;">4</div>
<div class="c r" style="left:509.50px;top:426.80px;width:26.80px;height:17.50px;">6</div>
<div class="c r" style="left:536.30px;top:426.80px;width:31.90px;height:17.50px;">.600</div>
<div class="c r" style="left:568.20px;top:426.80px;width:32.30px;height:17.50px;"></div>
<div class="c r" style="left:600.50px;top:426.80px;width:34.10px;height:17.50px;">.000</div>
<div class="c b" style="left:5.00px;top:444.30px;width:98.00px;height:18.00px;">Team Totals</div>
<div class="c r b" style="left:130.60px;top:444.30px;width:35.40px;height:18.00px;">171</div>
<div class="c r b" style="left:166.00px;top:444.30px;width:19.20px;height:18.00px;">33</div>
<div class="c r b" style="left:185.20px;top:444.30px;width:27.10px;height:18.00px;">72</div>
<div class="c r b" style="left:212.30px;top:444.30px;width:20.20px;height:18.00px;">8</div>
<div class="c r b" style="left:232.50px;top:444.30px;width:26.50px;height:18.00px;">26</div>
<div class="c r b" style="left:259.00px;top:444.30px;width:18.30px;height:18.00px;">9</div>
<div class="c r b" style="left:277.30px;top:444.30px;width:26.50px;height:18.00px;">14</div>
<div class="c r b" style="left:303.80px;top:444.30px;width:27.60px;height:18.00px;">14</div>
<div class="c r b" style="left:331.40px;top:444.30px;width:27.10px;height:18.00px;">20</div>
<div class="c r b" style="left:358.50px;top:444.30px;width:27.00px;height:18.00px;">34</div>
<div class="c r b" style="left:385.50px;top:444.30px;width:25.10px;height:18.00px;">20</div>
<div class="c r b" style="left:410.60px;top:444.30px;width:26.40px;height:18.00px;">8</div>
<div class="c r b" style="left:437.00px;top:444.30px;width:26.50px;height:18.00px;">4</div>
<div class="c r b" style="left:463.50px;top:444.30px;width:26.50px;height:18.00px;">12</div>
<div class="c r b" style="left:490.00px;top:444.30px;width:19.50px;height:18.00px;">10</div>
<div class="c r b" style="left:509.50px;top:444.30px;width:26.80px;height:18.00px;">83</div>
<div class="c r b" style="left:536.30px;top:444.30px;width:31.90px;height:18.00px;">.458</div>
<div class="c r b" style="left:568.20px;top:444.30px;width:32.30px;height:18.00px;">.308</div>
<div class="c r b" style="left:600.50px;top:444.30px;width:34.10px;height:18.00px;">.643</div>
<div class="hs" style="left:5.00px;top:269.00px;width:629.60px"></div>
<div class="hs" style="left:5.00px;top:286.00px;width:629.60px"></div>
<div class="hs2" style="left:5.00px;top:304.30px;width:629.60px"></div>
<div class="hd2" style="left:5.00px;top:321.80px;width:629.60px"></div>
<div class="hd2" style="left:5.00px;top:339.30px;width:629.60px"></div>
<div class="hd2" style="left:5.00px;top:356.80px;width:629.60px"></div>
<div class="hd2" style="left:5.00px;top:374.30px;width:629.60px"></div>
<div class="hd2" style="left:5.00px;top:391.80px;width:629.60px"></div>
<div class="hd2" style="left:5.00px;top:409.30px;width:629.60px"></div>
<div class="hd2" style="left:5.00px;top:426.80px;width:629.60px"></div>
<div class="hs2" style="left:5.00px;top:444.30px;width:629.60px"></div>
<div class="hs" style="left:5.00px;top:462.30px;width:629.60px"></div>
<div class="vs" style="left:5.00px;top:269.00px;height:194.30px"></div>
<div class="vs" style="left:634.60px;top:269.00px;height:194.30px"></div>
<div class="vs3" style="left:130.60px;top:269.00px;height:17.00px"></div>
<div class="vs3" style="left:536.30px;top:269.00px;height:17.00px"></div>
<div class="vs2" style="left:103.00px;top:286.00px;height:18.30px"></div>
<div class="vd" style="left:103.00px;top:304.30px;height:140.00px"></div>
<div class="vd2" style="left:103.00px;top:444.30px;height:18.00px"></div>
<div class="vs2" style="left:130.60px;top:286.00px;height:18.30px"></div>
<div class="vd" style="left:130.60px;top:304.30px;height:140.00px"></div>
<div class="vd2" style="left:130.60px;top:444.30px;height:18.00px"></div>
<div class="vs2" style="left:166.00px;top:286.00px;height:18.30px"></div>
<div class="vd" style="left:166.00px;top:304.30px;height:140.00px"></div>
<div class="vd2" style="left:166.00px;top:444.30px;height:18.00px"></div>
<div class="vs2" style="left:185.20px;top:286.00px;height:18.30px"></div>
<div class="vd" style="left:185.20px;top:304.30px;height:140.00px"></div>
<div class="vd2" style="left:185.20px;top:444.30px;height:18.00px"></div>
<div class="vs2" style="left:212.30px;top:286.00px;height:18.30px"></div>
<div class="vd" style="left:212.30px;top:304.30px;height:140.00px"></div>
<div class="vd2" style="left:212.30px;top:444.30px;height:18.00px"></div>
<div class="vs2" style="left:232.50px;top:286.00px;height:18.30px"></div>
<div class="vd" style="left:232.50px;top:304.30px;height:140.00px"></div>
<div class="vd2" style="left:232.50px;top:444.30px;height:18.00px"></div>
<div class="vs2" style="left:259.00px;top:286.00px;height:18.30px"></div>
<div class="vd" style="left:259.00px;top:304.30px;height:140.00px"></div>
<div class="vd2" style="left:259.00px;top:444.30px;height:18.00px"></div>
<div class="vs2" style="left:277.30px;top:286.00px;height:18.30px"></div>
<div class="vd" style="left:277.30px;top:304.30px;height:140.00px"></div>
<div class="vd2" style="left:277.30px;top:444.30px;height:18.00px"></div>
<div class="vs2" style="left:303.80px;top:286.00px;height:18.30px"></div>
<div class="vd" style="left:303.80px;top:304.30px;height:140.00px"></div>
<div class="vd2" style="left:303.80px;top:444.30px;height:18.00px"></div>
<div class="vs2" style="left:331.40px;top:286.00px;height:18.30px"></div>
<div class="vd" style="left:331.40px;top:304.30px;height:140.00px"></div>
<div class="vd2" style="left:331.40px;top:444.30px;height:18.00px"></div>
<div class="vs2" style="left:358.50px;top:286.00px;height:18.30px"></div>
<div class="vd" style="left:358.50px;top:304.30px;height:140.00px"></div>
<div class="vd2" style="left:358.50px;top:444.30px;height:18.00px"></div>
<div class="vs2" style="left:385.50px;top:286.00px;height:18.30px"></div>
<div class="vd" style="left:385.50px;top:304.30px;height:140.00px"></div>
<div class="vd2" style="left:385.50px;top:444.30px;height:18.00px"></div>
<div class="vs2" style="left:410.60px;top:286.00px;height:18.30px"></div>
<div class="vd" style="left:410.60px;top:304.30px;height:140.00px"></div>
<div class="vd2" style="left:410.60px;top:444.30px;height:18.00px"></div>
<div class="vs2" style="left:437.00px;top:286.00px;height:18.30px"></div>
<div class="vd" style="left:437.00px;top:304.30px;height:140.00px"></div>
<div class="vd2" style="left:437.00px;top:444.30px;height:18.00px"></div>
<div class="vs2" style="left:463.50px;top:286.00px;height:18.30px"></div>
<div class="vd" style="left:463.50px;top:304.30px;height:140.00px"></div>
<div class="vd2" style="left:463.50px;top:444.30px;height:18.00px"></div>
<div class="vs2" style="left:490.00px;top:286.00px;height:18.30px"></div>
<div class="vd" style="left:490.00px;top:304.30px;height:140.00px"></div>
<div class="vd2" style="left:490.00px;top:444.30px;height:18.00px"></div>
<div class="vs2" style="left:509.50px;top:286.00px;height:18.30px"></div>
<div class="vd" style="left:509.50px;top:304.30px;height:140.00px"></div>
<div class="vd2" style="left:509.50px;top:444.30px;height:18.00px"></div>
<div class="vs2" style="left:536.30px;top:286.00px;height:18.30px"></div>
<div class="vd" style="left:536.30px;top:304.30px;height:140.00px"></div>
<div class="vd2" style="left:536.30px;top:444.30px;height:18.00px"></div>
<div class="vs2" style="left:568.20px;top:286.00px;height:18.30px"></div>
<div class="vd" style="left:568.20px;top:304.30px;height:140.00px"></div>
<div class="vd2" style="left:568.20px;top:444.30px;height:18.00px"></div>
<div class="vs2" style="left:600.50px;top:286.00px;height:18.30px"></div>
<div class="vd" style="left:600.50px;top:304.30px;height:140.00px"></div>
<div class="vd2" style="left:600.50px;top:444.30px;height:18.00px"></div>
<svg style="position:absolute;left:0;top:0" width="650" height="472"><path d="M8 121.5 L611 123.5" stroke="#2fe02f" stroke-width="3" stroke-linecap="round" fill="none"/><path d="M8 157.5 L611 157.3" stroke="#2fe02f" stroke-width="3" stroke-linecap="round" fill="none"/><path d="M5 355.3 L630 356.3" stroke="#d81818" stroke-width="3" stroke-linecap="butt" fill="none"/><path d="M8 390 L631 389.8" stroke="#d81818" stroke-width="3" stroke-linecap="butt" fill="none"/></svg>
</body></html>
